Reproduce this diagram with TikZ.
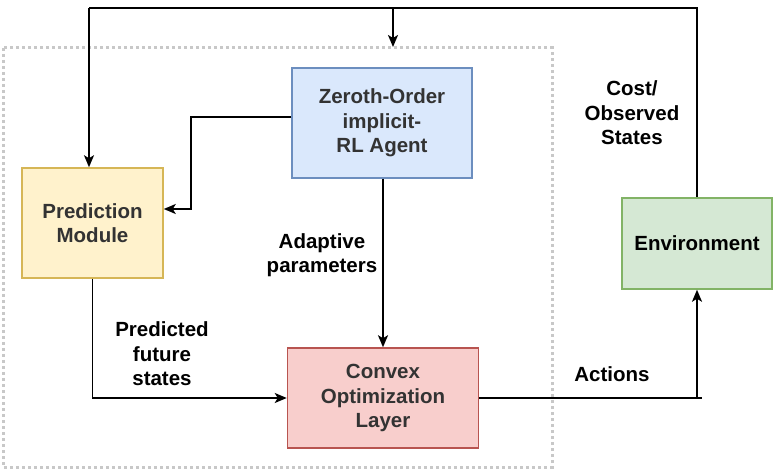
\documentclass[tikz,border=0pt]{standalone}
\usepackage{fontspec}
\setmainfont{Liberation Sans}
\usetikzlibrary{arrows.meta}
\definecolor{agentfill}{HTML}{DAE8FC}\definecolor{agentdraw}{HTML}{6C8EBF}
\definecolor{predfill}{HTML}{FFF2CC}\definecolor{preddraw}{HTML}{D6B656}
\definecolor{convfill}{HTML}{F8CECC}\definecolor{convdraw}{HTML}{B85450}
\definecolor{envfill}{HTML}{D5E8D4}\definecolor{envdraw}{HTML}{82B366}
\definecolor{txtgray}{HTML}{333333}
\definecolor{dotgray}{HTML}{C8C8C8}
\tikzset{
  box/.style={draw, line width=1.5pt, rectangle, align=center, text=txtgray,
    font=\fontsize{20.5}{24.5}\selectfont\bfseries, inner sep=0pt},
  lbl/.style={align=center, font=\fontsize{20.5}{24.5}\selectfont\bfseries, text=black, inner sep=0pt},
  arr/.style={line width=1.8pt, -{Stealth[length=12pt,width=10pt,inset=3pt]}},
  ln/.style={line width=1.8pt},
}
\begin{document}
\begin{tikzpicture}[x=1pt,y=-1pt]
\useasboundingbox (0,0) rectangle (774,470);
\fill[white] (0,0) rectangle (774,470);
\draw[dotgray, line width=3pt, dash pattern=on 3pt off 3pt] (3,48) rectangle (552,467);
\node[box, fill=agentfill, draw=agentdraw, minimum width=180pt, minimum height=110pt] (agent) at (382,123) {Zeroth-Order\\implicit-\\RL Agent};
\node[box, fill=predfill, draw=preddraw, minimum width=141pt, minimum height=110pt] (pred) at (92.5,223) {Prediction\\Module};
\node[box, fill=convfill, draw=convdraw, minimum width=191pt, minimum height=100pt] (conv) at (383,398) {Convex\\Optimization\\Layer};
\node[box, fill=envfill, draw=envdraw, minimum width=150pt, minimum height=91pt, text=black] (env) at (697,243.5) {Environment};
\coordinate (tr) at (697,8);
\coordinate (tl) at (89,8);
\coordinate (tm) at (393,8);
\coordinate (tmend) at (393,47);
\coordinate (aend) at (702,398);
\coordinate (acorner) at (697,398);
\draw[ln] (env.north) -- (tr) -- (tl);
\draw[arr] (tl) -- (tl |- pred.north);
\draw[arr] (tm) -- (tmend);
\draw[arr] ([yshift=6pt]agent.west) -- ++(-100,0) |- ([yshift=14pt]pred.east);
\draw[arr] (agent.south -| conv.north) -- (conv.north);
\draw[arr] (pred.south) |- (conv.west);
\draw[ln] (conv.east) -- (aend);
\draw[arr] (acorner) -- (env.south);
\node[lbl] (ladapt) at (322,255) {Adaptive\\parameters};
\node[lbl] (lpred) at (162,354) {Predicted\\future\\states};
\node[lbl] (lact) at (612,374) {Actions};
\node[lbl] (lcost) at (632,113) {Cost/\\Observed\\States};
\end{tikzpicture}
\end{document}
